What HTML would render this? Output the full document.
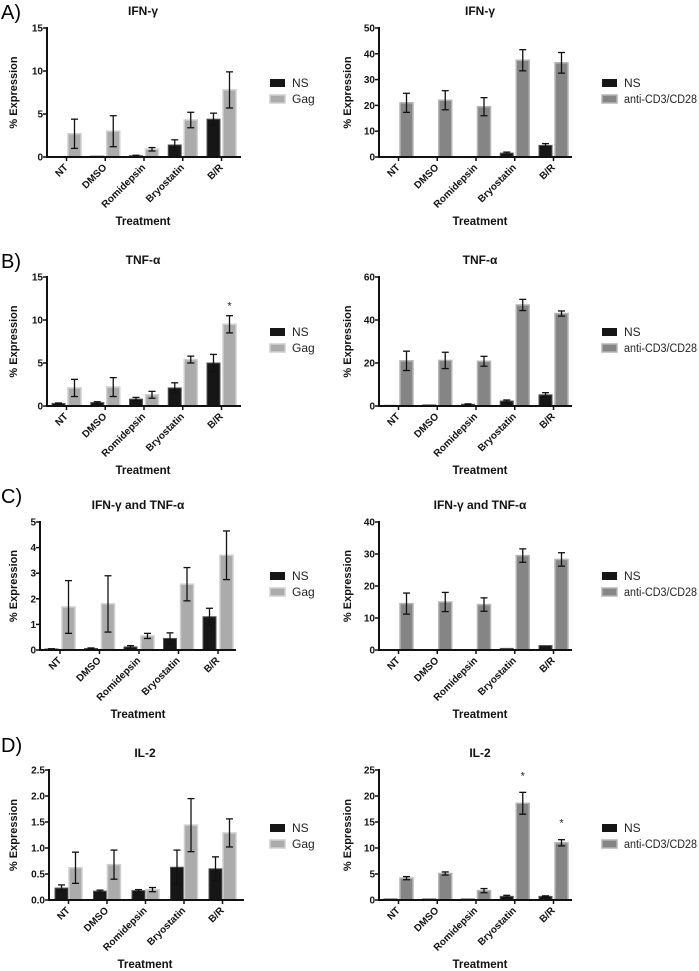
<!DOCTYPE html>
<html><head><meta charset="utf-8"><style>
html,body{margin:0;padding:0;background:#fff;}
svg{display:block;font-family:"Liberation Sans",Arial,sans-serif;}
</style></head><body>
<svg id="s" width="699" height="971" viewBox="0 0 699 971" xmlns="http://www.w3.org/2000/svg">
<text x="1" y="19" font-size="20">A)</text>
<text x="1" y="268" font-size="20">B)</text>
<text x="1" y="503" font-size="20">C)</text>
<text x="1" y="752" font-size="20">D)</text>
</svg>
<script>
var S=document.getElementById('s');var NS='http://www.w3.org/2000/svg';
function el(t,a,txt){var e=document.createElementNS(NS,t);for(var k in a)e.setAttribute(k,a[k]);if(txt!==undefined)e.textContent=txt;S.appendChild(e);return e;}
var cats=['NT','DMSO','Romidepsin','Bryostatin','B/R'];
function panel(p){
 var ax=p.ax,top=p.top,zero=p.zero,xend=p.xend,sp=p.sp,max=p.max;
 function Y(v){return zero-(v/max)*(zero-top);}
 var gcol=p.right?'#858585':'#ababab', gstroke=p.right?'#b5b5b5':'#cfcfcf';
 for(var i=0;i<5;i++){
  var x1=ax+p.o1+i*sp,x2=ax+p.o2+i*sp,w=13;
  var v=p.ns[i],e=p.nse[i];
  if(v>0){var y=Y(v);el('rect',{x:x1,y:y,width:w,height:zero-y,fill:'#161616',stroke:'#555','stroke-width':1});}
  if(e>0)eb(x1+w/2,Y(v+e),Y(Math.max(v-e,0)),Y(v));
  v=p.g[i];e=p.ge[i];var y2=Y(v);
  el('rect',{x:x2,y:y2,width:w,height:zero-y2,fill:gcol,stroke:gstroke,'stroke-width':1.5});
  if(e>0)eb(x2+w/2,Y(v+e),Y(v-e),y2);
  var cx=ax+(p.o1+p.o2+13)/2+i*sp;
  el('text',{x:cx+2,y:zero+11,'font-size':10,'font-weight':'bold','text-anchor':'end',transform:'rotate(-45 '+(cx+2)+' '+(zero+11)+')',fill:'#111'},cats[i]);
  el('line',{x1:cx,y1:zero,x2:cx,y2:zero+4,stroke:'#111','stroke-width':1.5});
 }
 (p.stars||[]).forEach(function(s){el('text',{x:ax+p.o2+s[0]*sp+6.5,y:Y(s[1])-6,'font-size':11,'text-anchor':'middle',fill:'#222'},'*');});
 el('line',{x1:ax,y1:top-1,x2:ax,y2:zero+1,stroke:'#111','stroke-width':2});
 el('line',{x1:ax-1,y1:zero,x2:xend,y2:zero,stroke:'#111','stroke-width':2});
 for(var j=0;j<p.ticks.length;j++){var tv=p.ticks[j],yy=Y(tv);
  el('line',{x1:ax-4,y1:yy,x2:ax,y2:yy,stroke:'#111','stroke-width':1.5});
  el('text',{x:ax-4,y:yy+3.5,'font-size':10,'font-weight':'bold','text-anchor':'end',fill:'#111'},p.tl[j]);}
 el('text',{x:p.tx,y:top-13,'font-size':12,'font-weight':'bold','text-anchor':'middle',fill:'#111'},p.title);
 el('text',{x:p.tx,y:zero+68,'font-size':11.5,'font-weight':'bold','text-anchor':'middle',fill:'#111'},'Treatment');
 var ly=(top+zero)/2;
 el('text',{x:p.ylx,y:ly,'font-size':11,'font-weight':'bold','text-anchor':'middle',transform:'rotate(-90 '+p.ylx+' '+ly+')',fill:'#111'},'% Expression');
 el('rect',{x:p.lx,y:p.ly,width:15,height:8,fill:'#161616'});
 el('rect',{x:p.lx,y:p.ly+16,width:15,height:8,fill:gcol,stroke:gstroke,'stroke-width':1.5});
 el('text',{x:p.lx+22,y:p.ly+8,'font-size':12,fill:'#222'},'NS');
 if(p.right)el('text',{x:p.lx+22,y:p.ly+24,'font-size':11.5,fill:'#222',textLength:73,lengthAdjust:'spacingAndGlyphs'},'anti-CD3/CD28');
 else el('text',{x:p.lx+22,y:p.ly+24,'font-size':12,fill:'#222'},'Gag');
}
function eb(x,yt,yb,yv){el('line',{x1:x,y1:yt,x2:x,y2:yb,stroke:'#111','stroke-width':1.3});
 el('line',{x1:x-3.5,y1:yt,x2:x+3.5,y2:yt,stroke:'#111','stroke-width':1.3});
 el('line',{x1:x-3.5,y1:yb,x2:x+3.5,y2:yb,stroke:'#111','stroke-width':1.3});}
function L(o){o.right=false;o.ylx=17;o.lx=270;return o;}
function R(o){o.right=true;o.ax=379;o.xend=572;o.sp=38.75;o.o1=5;o.o2=21;o.tx=480;o.ylx=351;o.lx=602;return o;}
panel(L({ax:47,top:28,zero:157,xend:241,sp:38.75,o1:5,o2:21,max:15,ticks:[0,5,10,15],tl:['0','5','10','15'],tx:143,title:'IFN-γ',ly:79,
 ns:[0.05,0.1,0.15,1.4,4.4],nse:[0,0,0.05,0.6,0.7],g:[2.7,3.0,0.9,4.3,7.8],ge:[1.7,1.8,0.2,0.9,2.1]}));
panel(R({top:28,zero:157,max:50,ticks:[0,10,20,30,40,50],tl:['0','10','20','30','40','50'],title:'IFN-γ',ly:79,
 ns:[0,0,0.2,1.5,4.5],nse:[0,0,0,0.4,0.7],g:[21,22,19.5,37.5,36.5],ge:[3.7,3.7,3.5,4.1,4]}));
panel(L({ax:47,top:277,zero:406,xend:241,sp:38.75,o1:5,o2:21,max:15,ticks:[0,5,10,15],tl:['0','5','10','15'],tx:143,title:'TNF-α',ly:328,
 ns:[0.3,0.4,0.8,2.1,5.0],nse:[0.05,0.1,0.2,0.6,1.0],g:[2.1,2.2,1.3,5.4,9.5],ge:[1.0,1.1,0.4,0.4,1.0],stars:[[4,10.5]]}));
panel(R({top:277,zero:406,max:60,ticks:[0,20,40,60],tl:['0','20','40','60'],title:'TNF-α',ly:328,
 ns:[0.3,0.5,0.8,2.3,5.2],nse:[0,0,0.2,0.5,1],g:[21,21.2,20.8,47,43],ge:[4.5,3.8,2.3,2.6,1.2]}));
panel(L({ax:40,top:522,zero:650,xend:236,sp:39.5,o1:5,o2:22,max:5,ticks:[0,1,2,3,4,5],tl:['0','1','2','3','4','5'],tx:138,title:'IFN-γ and TNF-α',ly:572,
 ns:[0.04,0.06,0.12,0.45,1.3],nse:[0.01,0.02,0.05,0.22,0.33],g:[1.68,1.8,0.55,2.57,3.7],ge:[1.03,1.1,0.1,0.65,0.95]}));
panel(R({top:522,zero:650,max:40,ticks:[0,10,20,30,40],tl:['0','10','20','30','40'],title:'IFN-γ and TNF-α',ly:572,
 ns:[0,0,0.1,0.5,1.4],nse:[0,0,0,0,0],g:[14.5,15,14.2,29.5,28.3],ge:[3.3,3,2.1,2.1,2.1]}));
panel(L({ax:49,top:770,zero:900,xend:244,sp:38.5,o1:6,o2:20,max:2.5,ticks:[0,0.5,1,1.5,2,2.5],tl:['0.0','0.5','1.0','1.5','2.0','2.5'],tx:145,title:'IL-2',ly:824,
 ns:[0.23,0.17,0.18,0.63,0.6],nse:[0.06,0.02,0.02,0.33,0.23],g:[0.62,0.68,0.2,1.44,1.29],ge:[0.3,0.28,0.04,0.51,0.27]}));
panel(R({top:770,zero:900,max:25,ticks:[0,5,10,15,20,25],tl:['0','5','10','15','20','25'],title:'IL-2',ly:824,
 ns:[0.2,0.2,0.2,0.7,0.7],nse:[0,0,0,0.2,0.1],g:[4.2,5.1,1.8,18.6,11],ge:[0.3,0.3,0.4,2.1,0.6],stars:[[3,22],[4,13]]}));
</script>
</body></html>
